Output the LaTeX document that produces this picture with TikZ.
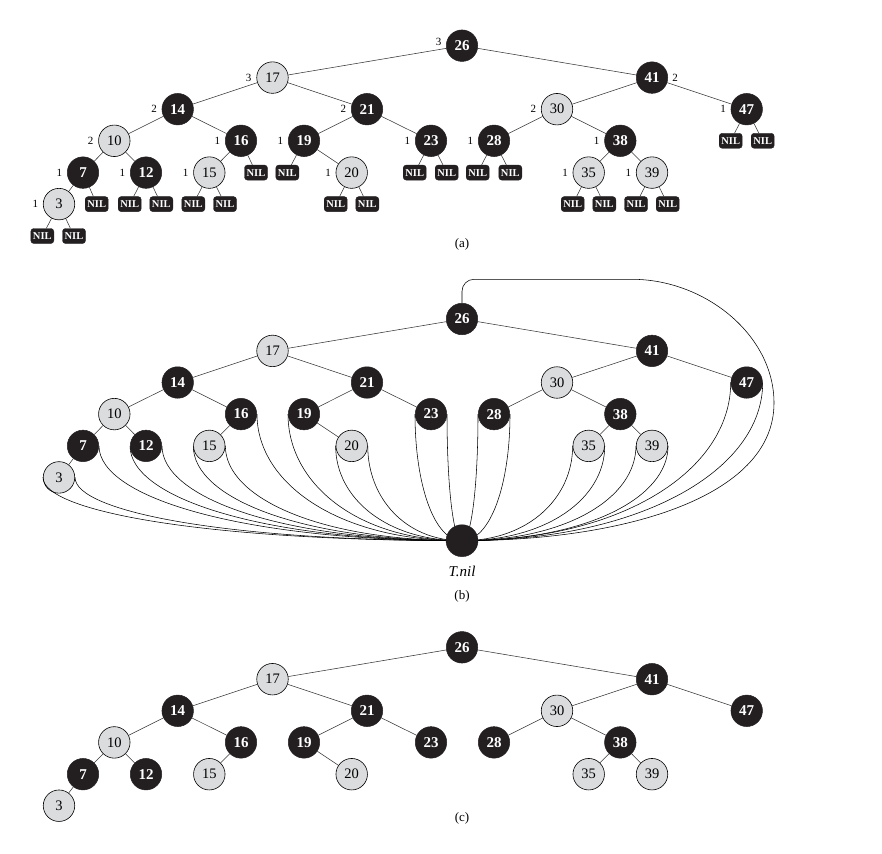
\documentclass[tikz,border=0pt]{standalone}
\usepackage{fontspec}
\setmainfont{Liberation Serif}
\usetikzlibrary{calc}
\definecolor{nblack}{RGB}{35,31,32}
\definecolor{ngray}{RGB}{219,220,222}
\definecolor{eline}{RGB}{55,55,55}
\tikzset{
  bn/.style={circle, fill=nblack, draw=nblack, line width=0.5pt, minimum size=31.5pt, inner sep=0pt, text=white, font=\fontsize{15}{16}\selectfont\bfseries},
  rn/.style={circle, fill=ngray, draw=black, line width=0.6pt, minimum size=31.5pt, inner sep=0pt, text=black, font=\fontsize{14.5}{16}\selectfont},
  nilbox/.style={rectangle, rounded corners=3pt, fill=nblack, draw=nblack, minimum width=23pt, minimum height=15pt, inner sep=0pt, text=white, font=\fontsize{10.5}{11}\selectfont\bfseries},
  lbl/.style={text=black, inner sep=0pt, font=\fontsize{11}{12}\selectfont},
  tedge/.style={draw=eline, line width=0.55pt},
  tnilnode/.style={circle, fill=nblack, draw=nblack, minimum size=32pt, inner sep=0pt},
  captxt/.style={inner sep=0pt, font=\fontsize{13}{14}\selectfont},
}
\newcommand\buildtree[2]{%
  \node[bn] (#1-26) at (462,#2) {26};
  \node[rn] (#1-17) at (272.5,{#2+31.9}) {17};
  \node[bn] (#1-41) at (652,{#2+31.9}) {41};
  \node[bn] (#1-14) at (177.7,{#2+63.5}) {14};
  \node[bn] (#1-21) at (367,{#2+63.5}) {21};
  \node[rn] (#1-30) at (557,{#2+63.5}) {30};
  \node[bn] (#1-47) at (746.7,{#2+63.5}) {47};
  \node[rn] (#1-10) at (114.3,{#2+95.1}) {10};
  \node[bn] (#1-16) at (241,{#2+95.1}) {16};
  \node[bn] (#1-19) at (304,{#2+95.1}) {19};
  \node[bn] (#1-23) at (431,{#2+95.1}) {23};
  \node[bn] (#1-28) at (494,{#2+95.1}) {28};
  \node[bn] (#1-38) at (620.3,{#2+95.1}) {38};
  \node[bn] (#1-7) at (83,{#2+126.9}) {7};
  \node[bn] (#1-12) at (146,{#2+126.9}) {12};
  \node[rn] (#1-15) at (209.3,{#2+126.9}) {15};
  \node[rn] (#1-20) at (351.7,{#2+126.9}) {20};
  \node[rn] (#1-35) at (588.7,{#2+126.9}) {35};
  \node[rn] (#1-39) at (652,{#2+126.9}) {39};
  \node[rn] (#1-3) at (59,{#2+158.4}) {3};
  \foreach \pa/\ch in {26/17,26/41,17/14,17/21,14/10,14/16,10/7,10/12,7/3,16/15,21/19,21/23,19/20,41/30,41/47,30/28,30/38,38/35,38/39}
    \draw[tedge] (#1-\pa) -- (#1-\ch);
}
\newcommand\nilc[1]{%
  \draw[tedge, draw=black] let \p1=(#1), \p2=(tnc) in (\p1) .. controls (\x1,{\y1+0.55*((\y2)-(\y1))}) and ({\x2-0.6*((\x2)-(\x1))},\y2) .. (\p2);
}
\begin{document}
\begin{tikzpicture}[x=1pt,y=-1pt]
\useasboundingbox (0,0) rectangle (882,853);
% ---------- (a) ----------
\buildtree{a}{45.7}
% black-height labels
\node[lbl] (la-26) at (438.5,42) {3};
\node[lbl] (la-17) at (248.5,77.6) {3};
\node[lbl] (la-41) at (675,77.6) {2};
\node[lbl] (la-14) at (154,109.2) {2};
\node[lbl] (la-21) at (343.3,109.2) {2};
\node[lbl] (la-30) at (533.3,109.2) {2};
\node[lbl] (la-47) at (723,109.2) {1};
\node[lbl] (la-10) at (90.6,140.8) {2};
\node[lbl] (la-16) at (217.3,140.8) {1};
\node[lbl] (la-19) at (280.3,140.8) {1};
\node[lbl] (la-23) at (407.3,140.8) {1};
\node[lbl] (la-28) at (470.3,140.8) {1};
\node[lbl] (la-38) at (596.6,140.8) {1};
\node[lbl] (la-7) at (59.3,172.6) {1};
\node[lbl] (la-12) at (122.3,172.6) {1};
\node[lbl] (la-15) at (185.6,172.6) {1};
\node[lbl] (la-20) at (328,172.6) {1};
\node[lbl] (la-35) at (565,172.6) {1};
\node[lbl] (la-39) at (628.3,172.6) {1};
\node[lbl] (la-3) at (35.3,204.1) {1};
% NIL leaves
\foreach \nm/\xx/\yy/\pp in {
  n3a/42.3/236/3, n3b/74/236/3,
  n7b/96.7/204.1/7,
  n12a/129.7/204.1/12, n12b/161.3/204.1/12,
  n15a/193.3/204.1/15, n15b/225/204.1/15,
  n16b/256/172.6/16,
  n19a/287.3/172.6/19,
  n20a/335.7/204.1/20, n20b/367.3/204.1/20,
  n23a/414.7/172.6/23, n23b/446.7/172.6/23,
  n28a/477.7/172.6/28, n28b/510.3/172.6/28,
  n35a/572.7/204.1/35, n35b/604.3/204.1/35,
  n39a/636/204.1/39, n39b/667.7/204.1/39,
  n47a/730.7/140.8/47, n47b/762.7/140.8/47}
{
  \node[nilbox] (a-\nm) at (\xx,\yy) {NIL};
  \draw[tedge] (a-\pp) -- (a-\nm);
}
\node[captxt] (capa) at (462,244) {(a)};
% ---------- (b) ----------
\buildtree{b}{319}
\coordinate (tnc) at (462,540.7);
\foreach \aa in {b-3.west,b-3.east,b-7.east,b-12.west,b-12.east,b-15.west,b-15.east,b-16.east,b-19.west,b-20.west,b-20.east,b-23.west,b-23.east,b-28.west,b-28.east,b-35.west,b-35.east,b-39.west,b-39.east,b-47.west,b-47.east}
  {\nilc{\aa}}
\draw[tedge, draw=black] (b-26.north) [rounded corners=12pt] |- (620,279.3) [sharp corners]
  .. controls (705,279.3) and (774,335) .. (774,403)
  .. controls (774,498) and (622,540.7) .. (tnc);
\node[tnilnode] (tn) at (tnc) {};
\node[inner sep=0pt, font=\fontsize{15}{16}\selectfont\itshape] (tnlab) at (462,571) {T.nil};
\node[captxt] (capb) at (462,596) {(b)};
% ---------- (c) ----------
\buildtree{c}{647.3}
\node[captxt] (capc) at (462,818) {(c)};
\end{tikzpicture}
\end{document}
